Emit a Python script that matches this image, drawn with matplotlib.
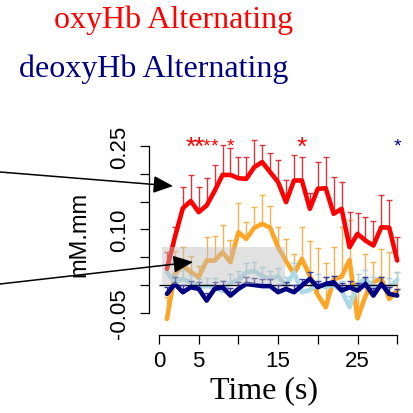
import numpy as np
import matplotlib
matplotlib.use("Agg")
import matplotlib.pyplot as plt
from matplotlib.patches import Rectangle, FancyArrowPatch

# ---- data -------------------------------------------------------------
time_s = np.arange(1, 31)

# oxyHb, alternating condition (mean and upper error)
oxy_alt = [0.029, 0.086, 0.138, 0.151, 0.131, 0.143, 0.169, 0.198, 0.198, 0.192,
           0.191, 0.212, 0.221, 0.203, 0.185, 0.149, 0.188, 0.188, 0.137, 0.173,
           0.174, 0.128, 0.137, 0.068, 0.092, 0.080, 0.071, 0.104, 0.103, 0.044]
oxy_alt_se = [0.030, 0.018, 0.038, 0.047, 0.045, 0.049, 0.046, 0.054, 0.048, 0.039,
              0.039, 0.049, 0.030, 0.034, 0.039, 0.039, 0.045, 0.042, 0.028, 0.048,
              0.056, 0.066, 0.048, 0.064, 0.037, 0.042, 0.045, 0.057, 0.049, 0.042]

# oxyHb, comparison condition
oxy_cmp = [-0.061, 0.020, 0.035, 0.023, 0.014, 0.044, 0.044, 0.059, 0.041, 0.095,
           0.083, 0.103, 0.110, 0.103, 0.068, 0.043, 0.020, 0.047, 0.016, -0.018,
           -0.040, 0.010, 0.015, 0.045, -0.060, -0.020, 0.005, 0.012, -0.025, -0.010]
oxy_cmp_se = [0.040, 0.042, 0.033, 0.030, 0.021, 0.042, 0.045, 0.049, 0.040, 0.052,
              0.030, 0.037, 0.052, 0.039, 0.036, 0.040, 0.035, 0.057, 0.064, 0.085,
              0.080, 0.058, 0.090, 0.072, 0.050, 0.076, 0.036, 0.053, 0.084, 0.033]

# deoxyHb, comparison condition
deoxy_cmp = [0.023, 0.005, 0.011, 0.005, -0.004, -0.002, -0.004, -0.011, 0.004, 0.009,
             0.023, 0.025, 0.016, 0.011, 0.016, -0.002, 0.023, -0.013, -0.009, 0.002,
             -0.004, 0.000, -0.010, -0.040, 0.002, 0.011, -0.004, -0.002, -0.005, 0.009]
deoxy_cmp_se = [0.015, 0.014, 0.016, 0.013, 0.015, 0.014, 0.016, 0.018, 0.015, 0.016,
                0.016, 0.016, 0.017, 0.014, 0.015, 0.016, 0.017, 0.018, 0.016, 0.017,
                0.018, 0.016, 0.018, 0.020, 0.017, 0.016, 0.018, 0.016, 0.017, 0.015]

# deoxyHb, alternating condition
deoxy_alt = [-0.016, 0.002, -0.013, -0.004, -0.007, -0.028, -0.007, -0.004, -0.019, -0.007,
             0.002, 0.000, -0.002, -0.002, -0.013, -0.007, -0.013, -0.001, 0.011, -0.004,
             0.002, 0.005, -0.010, -0.004, -0.010, 0.002, -0.019, 0.002, -0.016, -0.019]
deoxy_alt_se = [0.012, 0.012, 0.013, 0.012, 0.013, 0.014, 0.012, 0.012, 0.013, 0.012,
                0.012, 0.012, 0.012, 0.012, 0.013, 0.012, 0.013, 0.012, 0.013, 0.012,
                0.012, 0.012, 0.013, 0.012, 0.013, 0.012, 0.014, 0.012, 0.013, 0.012]

# significant time points
sig_oxy_strong = [4, 5, 18]
sig_oxy_weak = [6, 7, 9]
sig_deoxy = [30]

x_ticks = [0, 5, 10, 15, 20, 25, 30]
x_labels = ["0", "5", "", "15", "", "25", ""]
y_ticks = [-0.05, 0.0, 0.05, 0.10, 0.15, 0.20, 0.25]
y_labels = ["-0.05", "", "", "0.10", "", "", "0.25"]

# ---- figure -----------------------------------------------------------
W, H = 413, 414
fig = plt.figure(figsize=(W / 100, H / 100), dpi=100)


def fx(x):
    return x / W


def fy(y):
    return 1 - y / H


left, right, top, bottom = 149.3, 405.0, 110.0, 336.0
ax = fig.add_axes([fx(left), fy(bottom), (right - left) / W, (bottom - top) / H])
ax.set_xlim((left - 159.0) / 7.94, (right - 159.0) / 7.94)
ax.set_ylim((286.0 - bottom) / 556.0, (286.0 - top) / 556.0)
ax.patch.set_visible(False)

SANS = "Liberation Sans"
SERIF = "Liberation Serif"


def draw_series(values, se, line_color, bar_color, z):
    v = np.asarray(values)
    e = np.asarray(se)
    ax.vlines(time_s, v, v + e, color=bar_color, lw=1.0, zorder=z)
    ax.plot(time_s, v + e, ls="none", marker="_", ms=4.5, mew=1.0,
            color=bar_color, zorder=z)
    ax.plot(time_s, v, color=line_color, lw=3.3, zorder=z + 0.5,
            solid_joinstyle="round", solid_capstyle="round")


draw_series(oxy_cmp, oxy_cmp_se, "#ffa526", "#f5b050", 1)
draw_series(deoxy_cmp, deoxy_cmp_se, "#add8e6", "#a8d0de", 2)
ax.hlines(0, 0, 30, color="black", lw=1.0, zorder=3.2)
draw_series(deoxy_alt, deoxy_alt_se, "#000080", "#3a3a9a", 3.4)
draw_series(oxy_alt, oxy_alt_se, "#ff0000", "#d8363c", 4)

# shaded reference window
ax.add_patch(Rectangle((0.35, 0.002), 15.55, 0.066, facecolor="#bebebe",
                       edgecolor="none", alpha=0.45, zorder=5))

# significance markers
star_y = 0.248
for t in sig_oxy_strong:
    ax.text(t, star_y, "*", ha="center", va="center", fontsize=19,
            color="#ff0000", family=SANS, zorder=6)
for t in sig_oxy_weak:
    ax.text(t, star_y + 0.002, "*", ha="center", va="center", fontsize=14,
            color="#ff0000", family=SANS, zorder=6)
for t in sig_deoxy:
    ax.text(t, star_y + 0.002, "*", ha="center", va="center", fontsize=14,
            color="#000080", family=SANS, zorder=6)

# axes styling
for s in ("top", "right"):
    ax.spines[s].set_visible(False)
ax.spines["left"].set_bounds(-0.05, 0.25)
ax.spines["bottom"].set_bounds(0, 30)
for s in ("left", "bottom"):
    ax.spines[s].set_linewidth(0.9)

ax.set_xticks(x_ticks)
ax.set_xticklabels(x_labels, family=SANS, fontsize=16)
ax.set_yticks(y_ticks)
ax.set_yticklabels(y_labels, family=SANS, fontsize=16, rotation=90, va="center")
ax.tick_params(axis="both", direction="out", length=6.8, width=0.9)
ax.tick_params(axis="x", pad=4)
ax.tick_params(axis="y", pad=7)

# labels and titles
fig.text(fx(79.5), fy(234), "mM.mm", rotation=90, ha="center", va="center",
         fontsize=17, family=SANS)
fig.text(fx(264), fy(398), "Time (s)", ha="center", va="baseline",
         fontsize=23, family=SERIF)
fig.text(fx(173.5), fy(28.3), "oxyHb Alternating", ha="center", va="baseline",
         fontsize=23, family=SERIF, color="#ff0000")
fig.text(fx(154), fy(76.7), "deoxyHb Alternating", ha="center", va="baseline",
         fontsize=23, family=SERIF, color="#000080")

# pointer arrows
for (x0, y0), (x1, y1) in [((0, 173), (173, 187)), ((0, 285), (193, 263))]:
    fig.add_artist(FancyArrowPatch((fx(x0), fy(y0)), (fx(x1), fy(y1)),
                                   transform=fig.transFigure,
                                   arrowstyle="-|>,head_length=0.5,head_width=0.22",
                                   mutation_scale=24, lw=1.1, color="black",
                                   shrinkA=0, shrinkB=0, zorder=10))

fig.savefig("out.png", dpi=100)
